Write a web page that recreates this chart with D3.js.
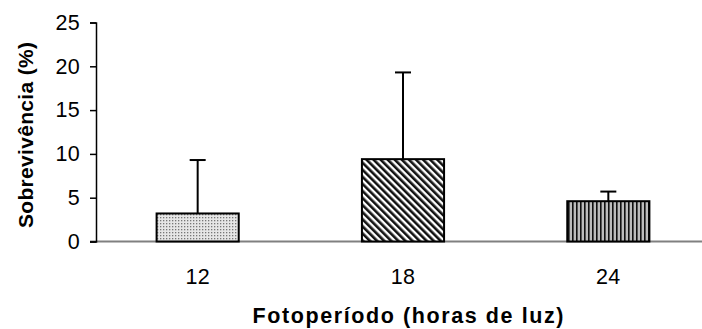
<!DOCTYPE html>
<html>
<head>
<meta charset="utf-8">
<script src="https://cdn.jsdelivr.net/npm/d3@7"></script>
<style>
  body { margin: 0; background: #fff; }
  svg { display: block; font-family: "Liberation Sans", Arial, sans-serif; }
</style>
</head>
<body>
<svg width="702" height="329"></svg>
<script>
var categories = ["12", "18", "24"];
var means = [3.2, 9.4, 4.6];
var errors = [6.1, 9.9, 1.1];
var yTicks = [0, 5, 10, 15, 20, 25];
var patterns = ["dots", "diag", "vert"];

var data = categories.map(function(c, i) {
  return { cat: c, mean: means[i], err: errors[i], pat: patterns[i] };
});

var svg = d3.select("svg");
var defs = svg.append("defs");

// dotted fill
var p1 = defs.append("pattern").attr("id", "dots")
  .attr("patternUnits", "userSpaceOnUse").attr("width", 3).attr("height", 3);
p1.append("rect").attr("width", 3).attr("height", 3).attr("fill", "#e6e6e6");
p1.append("rect").attr("x", 1).attr("y", 1).attr("width", 1.3).attr("height", 1.3).attr("fill", "#777");

// diagonal stripes
var p2 = defs.append("pattern").attr("id", "diag")
  .attr("patternUnits", "userSpaceOnUse").attr("width", 5).attr("height", 5)
  .attr("patternTransform", "rotate(-45)");
p2.append("rect").attr("width", 5).attr("height", 5).attr("fill", "#fff");
p2.append("rect").attr("width", 2.6).attr("height", 5).attr("fill", "#111");

// vertical stripes
var p3 = defs.append("pattern").attr("id", "vert")
  .attr("patternUnits", "userSpaceOnUse").attr("width", 4).attr("height", 4);
p3.append("rect").attr("width", 4).attr("height", 4).attr("fill", "#bdbdbd");
p3.append("rect").attr("width", 1.6).attr("height", 4).attr("fill", "#111");

var x = d3.scaleBand()
  .domain(categories)
  .range([95, 711])
  .paddingInner(0.6)
  .paddingOuter(0.3);

var y = d3.scaleLinear()
  .domain([0, 25])
  .range([241.5, 22.5]);

// x axis line (grey)
svg.append("line")
  .attr("x1", 90).attr("x2", 702)
  .attr("y1", y(0)).attr("y2", y(0))
  .attr("stroke", "#808080").attr("stroke-width", 2);

// bars
svg.selectAll("rect.bar")
  .data(data)
  .enter()
  .append("rect")
  .attr("class", "bar")
  .attr("x", function(d) { return x(d.cat); })
  .attr("width", x.bandwidth())
  .attr("y", function(d) { return y(d.mean); })
  .attr("height", function(d) { return y(0) - y(d.mean); })
  .attr("fill", function(d) { return "url(#" + d.pat + ")"; })
  .attr("stroke", "#000")
  .attr("stroke-width", 2);

// error bars
var eb = svg.selectAll("g.err")
  .data(data)
  .enter()
  .append("g")
  .attr("class", "err");
eb.append("line")
  .attr("x1", function(d) { return x(d.cat) + x.bandwidth() / 2; })
  .attr("x2", function(d) { return x(d.cat) + x.bandwidth() / 2; })
  .attr("y1", function(d) { return y(d.mean); })
  .attr("y2", function(d) { return y(d.mean + d.err); })
  .attr("stroke", "#000").attr("stroke-width", 2);
eb.append("line")
  .attr("x1", function(d) { return x(d.cat) + x.bandwidth() / 2 - 8; })
  .attr("x2", function(d) { return x(d.cat) + x.bandwidth() / 2 + 8; })
  .attr("y1", function(d) { return y(d.mean + d.err); })
  .attr("y2", function(d) { return y(d.mean + d.err); })
  .attr("stroke", "#000").attr("stroke-width", 2);

// y axis
var yAxis = d3.axisLeft(y).tickValues(yTicks).tickSize(6).tickPadding(10);
var gy = svg.append("g")
  .attr("transform", "translate(96,0)")
  .call(yAxis);
gy.select(".domain").attr("stroke", "#000").attr("stroke-width", 1.5);
gy.selectAll(".tick line").attr("stroke", "#000").attr("stroke-width", 1.5);
gy.selectAll(".tick text").attr("font-size", 21.5).attr("fill", "#000")
  .attr("letter-spacing", 0.3)
  .attr("font-family", "Liberation Sans, Arial, sans-serif");

// x axis labels
var xAxis = d3.axisBottom(x).tickSize(0).tickPadding(27);
var gx = svg.append("g")
  .attr("transform", "translate(0," + y(0) + ")")
  .call(xAxis);
gx.select(".domain").remove();
gx.selectAll(".tick text").attr("font-size", 21.5).attr("fill", "#000")
  .attr("letter-spacing", 0.3)
  .attr("font-family", "Liberation Sans, Arial, sans-serif");

// titles
svg.append("text")
  .attr("x", 252.5).attr("y", 322.5)
  .attr("font-size", 21.5).attr("font-weight", "bold")
  .attr("textLength", 311)
  .text("Fotoperíodo (horas de luz)");

svg.append("text")
  .attr("transform", "translate(32.5,228) rotate(-90)")
  .attr("font-size", 21).attr("font-weight", "bold")
  .attr("textLength", 186)
  .text("Sobrevivência (%)");
</script>
</body>
</html>
